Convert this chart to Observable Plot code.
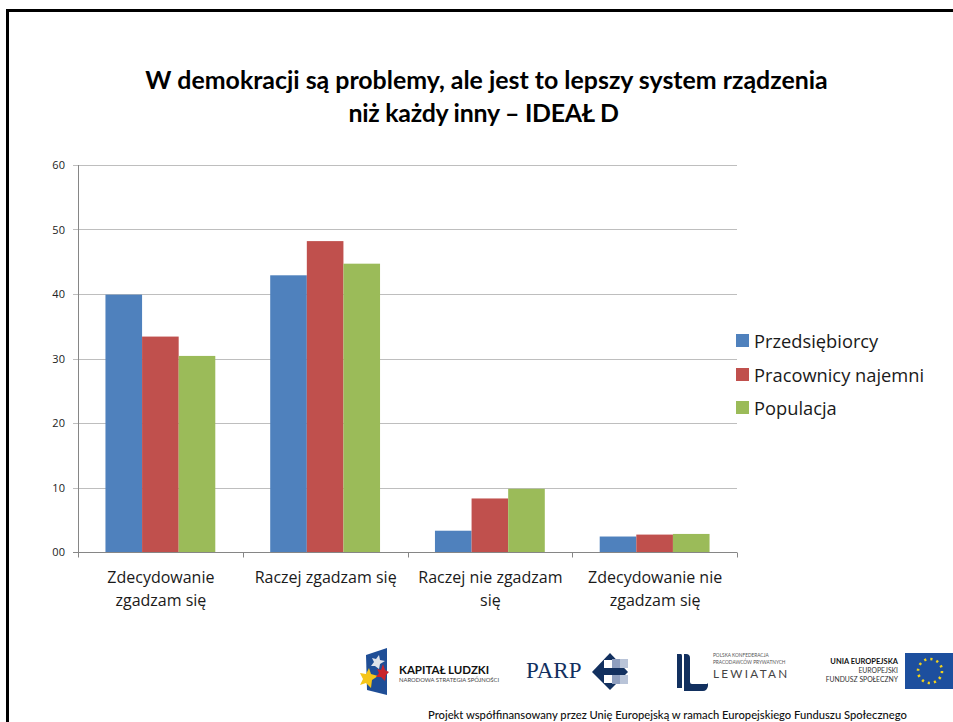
<!DOCTYPE html>
<html lang="pl">
<head>
<meta charset="utf-8">
<script src="https://cdn.jsdelivr.net/npm/d3@7"></script>
<script src="https://cdn.jsdelivr.net/npm/@observablehq/plot@0.6"></script>
<style>
html,body{margin:0;padding:0;background:#fff;overflow:hidden}
#page{position:relative;width:953px;height:722px;overflow:hidden;background:#fff}
#frame{position:absolute;left:6px;top:9px;right:-10px;bottom:-10px;border:3px solid #000}
#title{position:absolute;left:0;top:63px;width:973px;text-align:center;font:bold 24.9px/33px Lato,sans-serif;color:#000}
#title span{position:relative;left:-3px;letter-spacing:-0.25px}
#chart{position:absolute;left:0;top:150px}
#legend{position:absolute;left:736px;top:324px;font:18.3px/33.5px "Open Sans",sans-serif;color:#1a1a1a}
#legend div{display:flex;align-items:center;white-space:nowrap}
#legend i{display:inline-block;width:13px;height:13px;margin-right:5px}
#logos{position:absolute;left:0;top:640px}
#caption{position:absolute;left:428px;top:708px;font:500 11.2px/14px Lato,sans-serif;color:#111;white-space:nowrap}
</style>
</head>
<body>
<div id="page">
<div id="frame"></div>
<div id="title">W demokracji są problemy, ale jest to lepszy system rządzenia<br><span>niż każdy inny – IDEAŁ D</span></div>
<div id="chart"></div>
<div id="legend"></div>
<svg id="logos" width="953" height="70" viewBox="0 640 953 70">
  <!-- Kapitał Ludzki -->
  <polygon points="366,655 387,648 387,695 367,690" fill="#1f4e96"/>
  <polygon points="379,655 380,660 385,661 380,664 379,669 375,666 371,666 374,662 372,658 376,659" fill="#dfe3ea"/>
  <polygon points="369,668 371,674 378,676 372,680 371,688 366,683 360,685 363,679 360,673 366,674" fill="#f5c518"/>
  <polygon points="383,664 385,670 389,672 386,675 385,681 381,677 376,677 379,673 377,669 381,670" fill="#c8232c"/>
  <text x="399" y="674" font-family="Lato,sans-serif" font-weight="bold" font-size="11.5" fill="#111">KAPITAŁ LUDZKI</text>
  <text x="399" y="682" font-family="Lato,sans-serif" font-size="5.85" fill="#444">NARODOWA STRATEGIA SPÓJNOŚCI</text>
  <!-- PARP -->
  <text x="526" y="678" font-family="'Liberation Serif',serif" font-size="23" fill="#12305f">PARP</text>
  <polygon points="610,653 628,672 610,690 592,672" fill="#12305f"/>
  <rect x="604" y="660" width="8" height="8" fill="#fff"/>
  <rect x="604" y="675" width="8" height="8" fill="#fff"/>
  <rect x="612" y="659" width="8" height="9" fill="#8f9fbf"/>
  <rect x="620" y="659" width="8" height="9" fill="#b9c4d8"/>
  <rect x="612" y="675" width="8" height="9" fill="#8f9fbf"/>
  <rect x="620" y="675" width="8" height="9" fill="#b9c4d8"/>
  <!-- Lewiatan -->
  <path d="M677,654 h4 q1,0 1,2 v32 h-5z M684,654 h2 q4,0 4,4 v24 q0,2 2,2 h15 l1,-1 v3 q-1,5 -5,5 h-19z" fill="#12305f"/>
  <text x="713" y="657" font-family="Lato,sans-serif" font-size="4.75" fill="#555">POLSKA KONFEDERACJA</text>
  <text x="713" y="664" font-family="Lato,sans-serif" font-size="4.75" fill="#555">PRACODAWCÓW PRYWATNYCH</text>
  <text x="713" y="678" font-family="Lato,sans-serif" font-size="11.7" letter-spacing="2.3" fill="#444">LEWIATAN</text>
  <!-- Unia -->
  <text x="898" y="664" text-anchor="end" font-family="Lato,sans-serif" font-weight="bold" font-size="7.5" fill="#111">UNIA EUROPEJSKA</text>
  <text x="898" y="673" text-anchor="end" font-family="Lato,sans-serif" font-size="6.8" fill="#333">EUROPEJSKI</text>
  <text x="898" y="682" text-anchor="end" font-family="Lato,sans-serif" font-size="6.8" fill="#333">FUNDUSZ SPOŁECZNY</text>
  <rect x="905" y="653" width="48" height="36" fill="#1d4f9e"/>
  <circle cx="930" cy="671" r="12" fill="none" stroke="#f2d21c" stroke-width="2.6" stroke-dasharray="2.2 4.08"/>
</svg>
<div id="caption">Projekt współfinansowany przez Unię Europejską w ramach Europejskiego Funduszu Społecznego</div>
</div>
<script>
const categories = ["Zdecydowanie\nzgadzam się","Raczej zgadzam się","Raczej nie zgadzam\nsię","Zdecydowanie nie\nzgadzam się"];
const seriesNames = ["Przedsiębiorcy","Pracownicy najemni","Populacja"];
const seriesColors = ["#4f81bd","#c0504d","#9bbb59"];
const przedsiebiorcy = [39.9,42.9,3.3,2.4];
const pracownicy = [33.4,48.2,8.3,2.7];
const populacja = [30.4,44.7,9.8,2.8];
const yTicks = [0,10,20,30,40,50,60];
const tickLabels = ["00","10","20","30","40","50","60"];
const outerPad = 1/6;

const rows = [przedsiebiorcy,pracownicy,populacja].flatMap((vals,s)=>
  vals.map((v,c)=>({category:categories[c],series:seriesNames[s],value:v})));

// In a faceted plot the frame handed to a render function is inset by the fx outer padding.
const frameOf = (scales,dims)=>{
  const step = scales.fx(categories[1])-scales.fx(categories[0]);
  const pad = step*outerPad;
  return {step, left:dims.marginLeft-pad, right:dims.width-dims.marginRight+pad};
};

// Grid lines across the whole frame, drawn from the y scale, beneath the bars.
const gridLines = Plot.dot([0],{
  facet:"super",
  frameAnchor:"middle",
  render(index,scales,values,dims){
    const f = frameOf(scales,dims);
    const g = d3.create("svg:g").attr("stroke","#bebebe");
    for(const t of yTicks){
      const y = Math.round(scales.y(t))+0.5;
      g.append("line").attr("x1",f.left-5).attr("x2",f.right).attr("y1",y).attr("y2",y);
    }
    return g.node();
  }
});
// Axis lines and category separator ticks.
const axisLines = Plot.dot([0],{
  facet:"super",
  frameAnchor:"middle",
  render(index,scales,values,dims){
    const f = frameOf(scales,dims);
    const g = d3.create("svg:g").attr("stroke","#868686");
    const y0 = Math.round(scales.y(0))+0.5;
    for(let i=0;i<=categories.length;i++){
      const x = Math.round(f.left+i*f.step)+0.5;
      g.append("line").attr("x1",x).attr("x2",x).attr("y1",y0).attr("y2",y0+5);
    }
    g.append("line").attr("x1",f.left-5).attr("x2",f.right).attr("y1",y0).attr("y2",y0);
    g.append("line").attr("x1",f.left+0.5).attr("x2",f.left+0.5).attr("y1",dims.marginTop).attr("y2",y0);
    return g.node();
  }
});

const plot = Plot.plot({
  width:760,height:472,
  marginLeft:78,marginRight:23,marginTop:15,marginBottom:70,
  style:{background:"transparent",fontFamily:"'Open Sans',sans-serif",overflow:"visible"},
  fx:{domain:categories,paddingInner:1/3,paddingOuter:outerPad,round:false,label:null},
  x:{domain:seriesNames,padding:0,round:false,axis:null,label:null},
  y:{domain:[0,60],ticks:yTicks,label:null},
  color:{domain:seriesNames,range:seriesColors},
  marks:[
    gridLines,
    Plot.barY(rows,{fx:"category",x:"series",y:"value",fill:"series"}),
    Plot.axisY(yTicks,{tickFormat:(d,i)=>tickLabels[i],tickSize:0,tickPadding:41,fontSize:11,fill:"#222",label:null}),
    Plot.axisFx({tickSize:0,tickPadding:14,fontSize:16,fill:"#1a1a1a",lineHeight:1.45,lineWidth:30,label:null,anchor:"bottom"}),
    axisLines
  ]
});
document.getElementById("chart").append(plot);

const leg = document.getElementById("legend");
seriesNames.forEach((n,i)=>{
  const d=document.createElement("div");
  const sw=document.createElement("i");sw.style.background=seriesColors[i];
  d.append(sw,n);leg.append(d);
});
</script>
</body>
</html>
